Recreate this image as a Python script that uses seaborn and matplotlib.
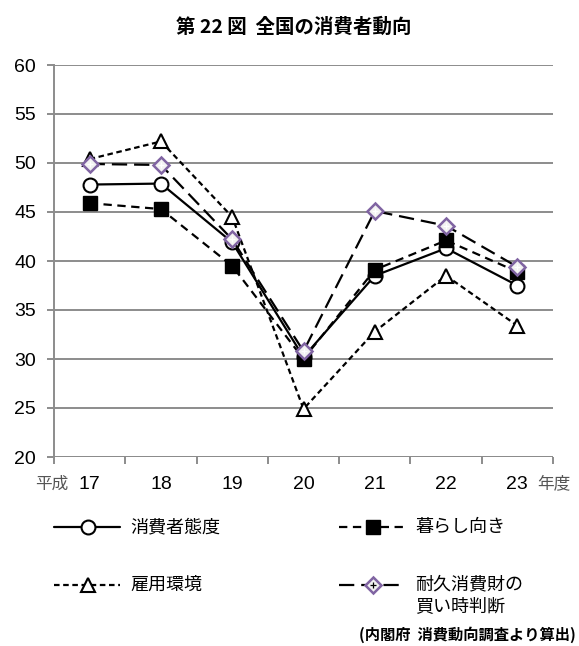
import matplotlib
matplotlib.use("Agg")
import matplotlib.pyplot as plt
from matplotlib.lines import Line2D
import seaborn as sns
import pandas as pd

# Fiscal years (Heisei era)
years = ["17", "18", "19", "20", "21", "22", "23"]

# Consumer confidence index and its components
consumer_attitude = [47.8, 47.9, 41.9, 30.2, 38.5, 41.3, 37.5]   # 消費者態度
living = [45.9, 45.3, 39.5, 30.0, 39.1, 42.1, 38.9]              # 暮らし向き
employment = [50.4, 52.2, 44.5, 24.9, 32.8, 38.5, 33.4]          # 雇用環境
durables = [49.9, 49.8, 42.2, 30.8, 45.1, 43.6, 39.4]            # 耐久消費財の買い時判断

y_ticks = [20, 25, 30, 35, 40, 45, 50, 55, 60]

sns.set_theme(style="white")
plt.rcParams["font.family"] = ["Noto Sans CJK JP", "DejaVu Sans"]
plt.rcParams["lines.scale_dashes"] = False

W, H = 579, 646
fig = plt.figure(figsize=(W / 100, H / 100), dpi=100)
ax = fig.add_axes([54 / W, 1 - 457 / H, (553 - 54) / W, (457 - 65) / H])

num_font = ["Liberation Sans Narrow", "Liberation Sans", "DejaVu Sans"]
GRID = "#8c8c8c"
PURPLE = "#8064a2"

pos = list(range(len(years)))
df = pd.DataFrame({
    "pos": pos,
    "attitude": consumer_attitude,
    "living": living,
    "employment": employment,
    "durables": durables,
})

styles = {
    "attitude": dict(linestyle="-", marker="o", markersize=10,
                     markerfacecolor="white", markeredgecolor="black",
                     markeredgewidth=1.5),
    "living": dict(linestyle=(0, (6, 4)), marker="s", markersize=10,
                   markerfacecolor="black", markeredgecolor="black",
                   markeredgewidth=1.0),
    "employment": dict(linestyle=(0, (4, 2.6)), marker="^", markersize=10.5,
                       markerfacecolor="white", markeredgecolor="black",
                       markeredgewidth=1.5),
    "durables": dict(linestyle=(0, (11, 5)), marker="D", markersize=8,
                     markerfacecolor="#f2f2f2", markeredgecolor=PURPLE,
                     markeredgewidth=1.8),
}

for i, (col, st) in enumerate(styles.items()):
    sns.lineplot(data=df, x="pos", y=col, ax=ax, color="black",
                 linewidth=1.6, zorder=3 + i, sort=False, **st)

# small cross inside the durables diamonds
sns.lineplot(data=df, x="pos", y="durables", ax=ax, color="black",
             linestyle="none", marker="+", markersize=5,
             markeredgewidth=0.9, zorder=8)

ax.set_xlim(-0.5, len(years) - 0.5)
ax.set_ylim(20, 60)
ax.set_yticks(y_ticks)
ax.set_yticklabels([str(t) for t in y_ticks], family=num_font, fontsize=14,
                   color="black")
ax.set_xticks(pos)
ax.set_xticklabels(years, family=num_font, fontsize=14, color="black")
ax.set_xticks([p - 0.5 for p in pos] + [len(years) - 0.5], minor=True)
ax.set_xlabel("")
ax.set_ylabel("")

ax.grid(axis="y", color=GRID, linewidth=1.4)
ax.grid(axis="x", visible=False)
ax.set_axisbelow(True)
for s in ["top", "right", "bottom"]:
    ax.spines[s].set_visible(False)
ax.spines["left"].set_color(GRID)
ax.spines["left"].set_linewidth(1.4)
ax.axhline(20, color=GRID, linewidth=1.4, zorder=1)

ax.tick_params(axis="y", which="major", length=5, width=1.4, color=GRID,
               left=True, pad=8)
ax.tick_params(axis="x", which="major", length=0, pad=14)
ax.tick_params(axis="x", which="minor", length=5, width=1.4, color=GRID,
               bottom=True)

# axis captions
fig.text(35 / W, 1 - 484 / H, "平成", fontsize=12, color="#555555",
         ha="left", va="center")
fig.text(537 / W, 1 - 484 / H, "年度", fontsize=12, color="#555555",
         ha="left", va="center")

fig.text(294 / W, 1 - 27 / H, "第 22 図  全国の消費者動向", fontsize=14,
         fontweight="bold", ha="center", va="center", color="black")

# legend
labels = {
    "attitude": "消費者態度",
    "living": "暮らし向き",
    "employment": "雇用環境",
    "durables": "耐久消費財の\n買い時判断",
}
slots = {
    "attitude": (54, 527),
    "living": (339, 527),
    "employment": (54, 585),
    "durables": (339, 585),
}
for col, st in styles.items():
    x0, yy = slots[col]
    x1 = x0 + 66
    xm = x0 + 34
    yf = 1 - yy / H
    line_kw = {k: v for k, v in st.items() if not k.startswith("marker")}
    fig.add_artist(Line2D([x0 / W, x1 / W], [yf, yf], color="black",
                          linewidth=1.6, transform=fig.transFigure, **line_kw))
    mk = {k: v for k, v in st.items() if k.startswith("marker")}
    fig.add_artist(Line2D([xm / W], [yf], linestyle="none", color="black",
                          transform=fig.transFigure, **mk))
    if col == "durables":
        fig.add_artist(Line2D([xm / W], [yf], linestyle="none", color="black",
                              marker="+", markersize=5, markeredgewidth=0.9,
                              transform=fig.transFigure))
    if "\n" in labels[col]:
        fig.text((x1 + 10) / W, 1 - (yy - 10) / H, labels[col], fontsize=13,
                 ha="left", va="top", linespacing=1.3, color="black")
    else:
        fig.text((x1 + 10) / W, yf, labels[col], fontsize=13, ha="left",
                 va="center", color="black")

fig.text(576 / W, 1 - 635 / H, "(内閣府  消費動向調査より算出)", fontsize=11,
         fontweight="bold", ha="right", va="center", color="black")

fig.savefig("out.png", dpi=100)
